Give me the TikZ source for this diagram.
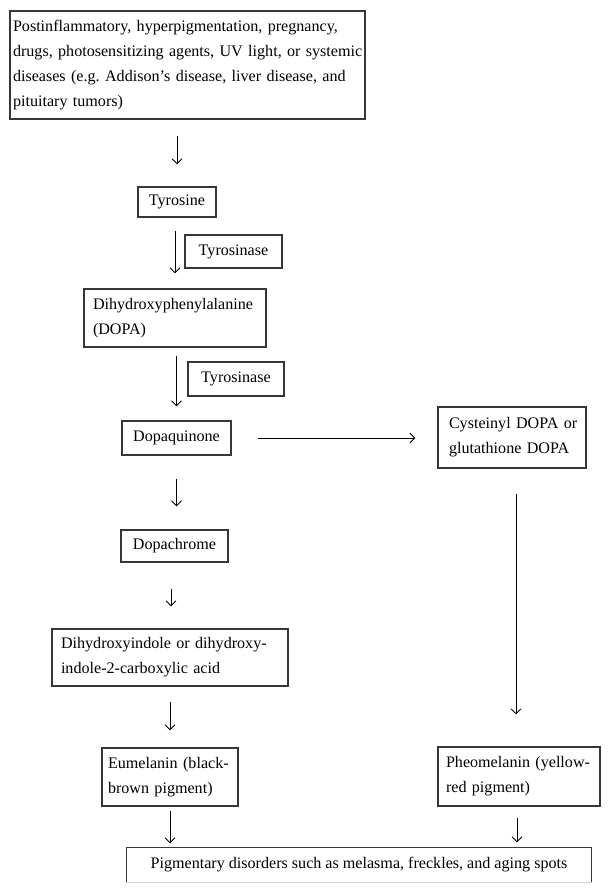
\documentclass[tikz,border=0pt]{standalone}
\usepackage{fontspec}
\setmainfont{Liberation Serif}
\usetikzlibrary{arrows.meta}
\hfuzz=200pt
\hbadness=10000
\frenchspacing
\definecolor{boxline}{RGB}{55,55,55}
\definecolor{faint}{RGB}{215,215,215}
\tikzset{
  box/.style={draw=boxline, line width=1.1pt, inner xsep=0pt, inner ysep=0pt,
    font=\fontsize{16.1}{24.8}\selectfont, text=black},
  lbox/.style={box, align=left},
  cbox/.style={box, align=center},
  arr/.style={draw=black, line width=0.9pt, -{Straight Barb[length=5pt,width=10pt]}},
}
\newcommand{\boxline}[1]{\mbox{#1}}
\begin{document}
\begin{tikzpicture}[x=1pt,y=-1pt]
\useasboundingbox (0,0) rectangle (611,893);
% boxes
\node[lbox, minimum width=355, minimum height=108, text width=349] (top) at (187.5,65)
  {\boxline{Postinflammatory, hyperpigmentation, pregnancy,}\\
   \boxline{drugs, photosensitizing agents, UV light, or systemic}\\
   \boxline{diseases (e.g. Addison's disease, liver disease, and}\\
   \boxline{pituitary tumors)}};
\node[cbox, minimum width=78, minimum height=30] (tyr) at (177,202) {Tyrosine};
\node[cbox, minimum width=97, minimum height=33] (ase1) at (233.5,251.5) {Tyrosinase};
\node[lbox, minimum width=182, minimum height=58, text width=164] (dopa) at (175,318)
  {\boxline{Dihydroxyphenylalanine}\\(DOPA)};
\node[cbox, minimum width=96, minimum height=34] (ase2) at (236,379) {Tyrosinase};
\node[cbox, minimum width=109, minimum height=34] (dq) at (176.5,438) {Dopaquinone};
\node[lbox, minimum width=148, minimum height=61, text width=126] (cys) at (512,437.5)
  {\boxline{Cysteinyl DOPA or}\\\boxline{glutathione DOPA}};
\node[cbox, minimum width=107, minimum height=32] (dc) at (174.5,546) {Dopachrome};
\node[lbox, minimum width=236, minimum height=57, text width=218] (dhi) at (170,657.5)
  {\boxline{Dihydroxyindole or dihydroxy-}\\\boxline{indole-2-carboxylic acid}};
\node[lbox, minimum width=136, minimum height=58, text width=124] (eum) at (170,777)
  {\boxline{Eumelanin (black-}\\\boxline{brown pigment)}};
\node[lbox, minimum width=162, minimum height=59, text width=146] (pheo) at (519,776.5)
  {\boxline{Pheomelanin (yellow-}\\\boxline{red pigment)}};
\node[cbox, draw=none, minimum width=464, minimum height=34] (bot) at (359,865)
  {Pigmentary disorders such as melasma, freckles, and aging spots};
\draw[draw=boxline, line width=1.1pt] (bot.south west) -- (bot.north west) -- (bot.north east) -- (bot.south east);
\draw[draw=faint, line width=1pt] (bot.south west) -- (bot.south east);
% arrows
\draw[arr, shorten <=16pt, shorten >=22pt] (top.south -| tyr.north) -- (tyr.north);
\draw[arr, shorten <=13pt, shorten >=15pt] ([xshift=-2pt]tyr.south) -- ([xshift=-2pt]tyr.south |- dopa.north);
\draw[arr, shorten <=8pt, shorten >=14pt] (dopa.south -| dq.north) -- (dq.north);
\draw[arr, shorten <=26pt, shorten >=22pt] (dq.east) -- (dq.east -| cys.west);
\draw[arr, shorten <=23pt, shorten >=23pt] (dq.south) -- (dq.south |- dc.north);
\draw[arr, shorten <=26pt, shorten >=22pt] ([xshift=-3.5pt]dc.south) -- ([xshift=-3.5pt]dc.south |- dhi.north);
\draw[arr, shorten <=15pt, shorten >=17pt] (dhi.south) -- (eum.north);
\draw[arr, shorten <=4pt, shorten >=4pt] (eum.south) -- (eum.south |- bot.north);
\draw[arr, shorten <=25pt, shorten >=32pt] ([xshift=4pt]cys.south) -- ([xshift=4pt]cys.south |- pheo.north);
\draw[arr, shorten <=11pt, shorten >=5pt] ([xshift=-2pt]pheo.south) -- ([xshift=-2pt]pheo.south |- bot.north);
\end{tikzpicture}
\end{document}
